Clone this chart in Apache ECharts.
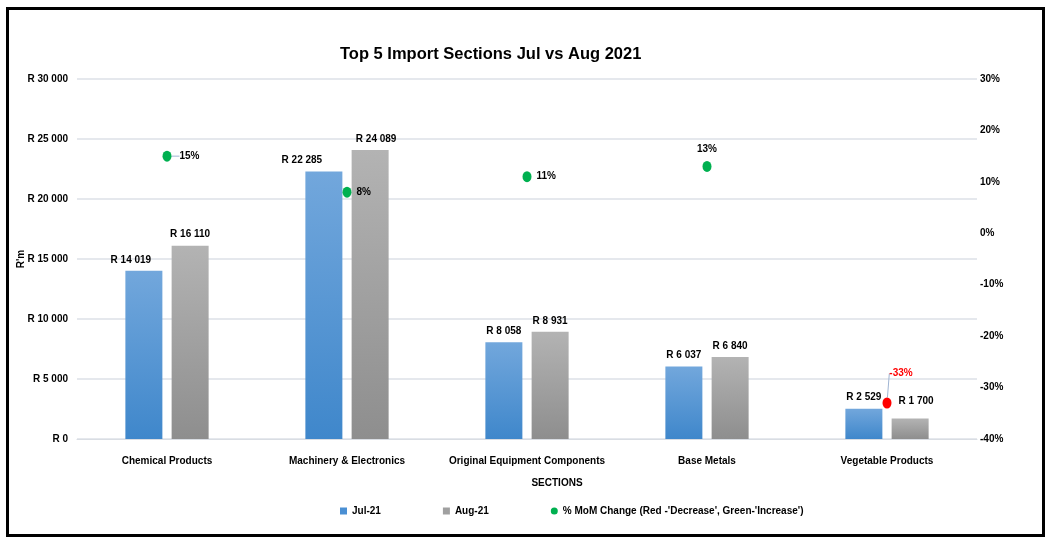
<!DOCTYPE html>
<html lang="en">
<head>
    <meta charset="UTF-8">
    <title>Top 5 Import Sections</title>
    <style>
        body, html {
            margin: 0;
            padding: 0;
            width: 100%;
            height: 100%;
            background: #fff;
        }

        #frame {
            position: absolute;
            left: 6px;
            top: 7px;
            width: 1033px;
            height: 524px;
            border: 3px solid #000;
        }

        #main {
            position: absolute;
            left: 0;
            top: 0;
            width: 1050px;
            height: 543px;
        }
    </style>
</head>
<body>
<div id="frame"></div>
<div id="main"></div>
<script src="https://cdn.jsdelivr.net/npm/echarts@6/dist/echarts.min.js"></script>
<script>

    let sections = ['Chemical Products', 'Machinery & Electronics', 'Original Equipment Components', 'Base Metals', 'Vegetable Products'];
    let jul21 = [14019, 22285, 8058, 6037, 2529];
    let aug21 = [16110, 24089, 8931, 6840, 1700];
    let momChange = [15, 8, 11, 13, -33];
    let leftTicks = ['R 0', 'R 5 000', 'R 10 000', 'R 15 000', 'R 20 000', 'R 25 000', 'R 30 000'];
    let rightTicks = ['-40%', '-30%', '-20%', '-10%', '0%', '10%', '20%', '30%'];

    let font = '"Liberation Sans", Arial, sans-serif';
    let fs = 10;

    // R 14 019 style
    function rand(v) {
        return 'R ' + String(v).replace(/\B(?=(\d{3})+(?!\d))/g, ' ');
    }

    function barGrad(top, bottom) {
        return new echarts.graphic.LinearGradient(0, 0, 0, 1, [
            {offset: 0, color: top},
            {offset: 1, color: bottom}
        ]);
    }

    // labels pushed aside where the dots sit
    let julOffsets = {0: [-13, 0], 1: [-22, 0]};
    let augOffsets = {1: [6, 0], 4: [6, -6]};

    let julData = jul21.map(function (v, i) {
        return julOffsets[i] ? {value: v, label: {offset: julOffsets[i]}} : v;
    });
    let augData = aug21.map(function (v, i) {
        return augOffsets[i] ? {value: v, label: {offset: augOffsets[i]}} : v;
    });
    let momData = momChange.map(function (v, i) {
        let item = {
            value: v,
            itemStyle: {color: v < 0 ? '#ff0000' : '#00b050'}
        };
        if (v < 0) {
            item.label = {position: 'top', color: '#ff0000'};
            item.labelLine = {show: true, lineStyle: {color: '#9fb4d2', width: 1}};
        } else if (i === 3) {
            item.label = {position: 'top', distance: 7};
        } else if (i === 0) {
            item.labelLine = {show: true, lineStyle: {color: '#9fb4d2', width: 1}};
        }
        return item;
    });

    let labelStyle = {
        fontFamily: font,
        fontSize: fs,
        fontWeight: 'bold',
        color: '#000'
    };

    let myChart = echarts.init(document.getElementById('main'));
    let option = {
        animation: false,
        textStyle: {fontFamily: font},
        title: {
            text: 'Top 5 Import Sections Jul vs Aug 2021',
            left: 335,
            top: 41,
            textStyle: {
                fontFamily: font,
                fontSize: 16.5,
                fontWeight: 'bold',
                color: '#000'
            }
        },
        legend: {
            left: 340,
            top: 506,
            padding: 0,
            itemGap: 62,
            itemWidth: 7,
            itemHeight: 7,
            textStyle: labelStyle,
            data: [
                {name: 'Jul-21', icon: 'rect', itemStyle: {color: '#4a8fd3'}},
                {name: 'Aug-21', icon: 'rect', itemStyle: {color: '#a0a0a0'}},
                {name: "% MoM Change (Red -'Decrease', Green-'Increase')", icon: 'circle', itemStyle: {color: '#00b050'}}
            ]
        },
        grid: {
            left: 77,
            right: 73,
            top: 79,
            bottom: 104,
            outerBoundsMode: 'none'
        },
        xAxis: {
            type: 'category',
            data: sections,
            name: 'SECTIONS',
            nameLocation: 'middle',
            nameGap: 39,
            nameMoveOverlap: false,
            nameTextStyle: Object.assign({padding: [0, 0, 0, 60]}, labelStyle),
            axisLine: {lineStyle: {color: '#d9dde3'}},
            axisTick: {show: false},
            axisLabel: Object.assign({margin: 17, interval: 0}, labelStyle)
        },
        yAxis: [
            {
                type: 'value',
                min: 0,
                max: 30000,
                interval: 5000,
                name: "R'm",
                nameLocation: 'middle',
                nameGap: 51,
                nameMoveOverlap: false,
                nameTextStyle: labelStyle,
                axisLabel: Object.assign({
                    margin: 9,
                    formatter: function (v) {
                        return leftTicks[v / 5000];
                    }
                }, labelStyle),
                splitLine: {lineStyle: {color: '#dde1e7', width: 1.5}}
            },
            {
                type: 'value',
                min: -40,
                max: 30,
                interval: 10,
                axisLabel: Object.assign({
                    margin: 3,
                    formatter: function (v) {
                        return rightTicks[(v + 40) / 10];
                    }
                }, labelStyle),
                splitLine: {show: false}
            }
        ],
        series: [
            {
                name: 'Jul-21',
                type: 'bar',
                data: julData,
                barWidth: 37,
                barGap: '25%',
                itemStyle: {color: barGrad('#72a7dc', '#3f87cb')},
                label: Object.assign({
                    show: true,
                    position: 'top',
                    distance: 6,
                    formatter: function (p) {
                        return rand(p.value);
                    }
                }, labelStyle)
            },
            {
                name: 'Aug-21',
                type: 'bar',
                data: augData,
                barWidth: 37,
                itemStyle: {color: barGrad('#b3b3b3', '#8e8e8e')},
                label: Object.assign({
                    show: true,
                    position: 'top',
                    distance: 6,
                    formatter: function (p) {
                        return rand(p.value);
                    }
                }, labelStyle)
            },
            {
                name: "% MoM Change (Red -'Decrease', Green-'Increase')",
                type: 'scatter',
                yAxisIndex: 1,
                data: momData,
                symbol: 'circle',
                symbolSize: [9, 11],
                z: 5,
                itemStyle: {opacity: 1},
                label: Object.assign({
                    show: true,
                    position: 'right',
                    distance: 5,
                    formatter: '{c}%'
                }, labelStyle),
                labelLayout: function (p) {
                    if (p.dataIndex === 4) {
                        return {dx: 14, dy: -14};
                    }
                    if (p.dataIndex === 0) {
                        return {dx: 3};
                    }
                    return {};
                }
            }
        ]
    };

    myChart.setOption(option);

</script>
</body>
</html>
